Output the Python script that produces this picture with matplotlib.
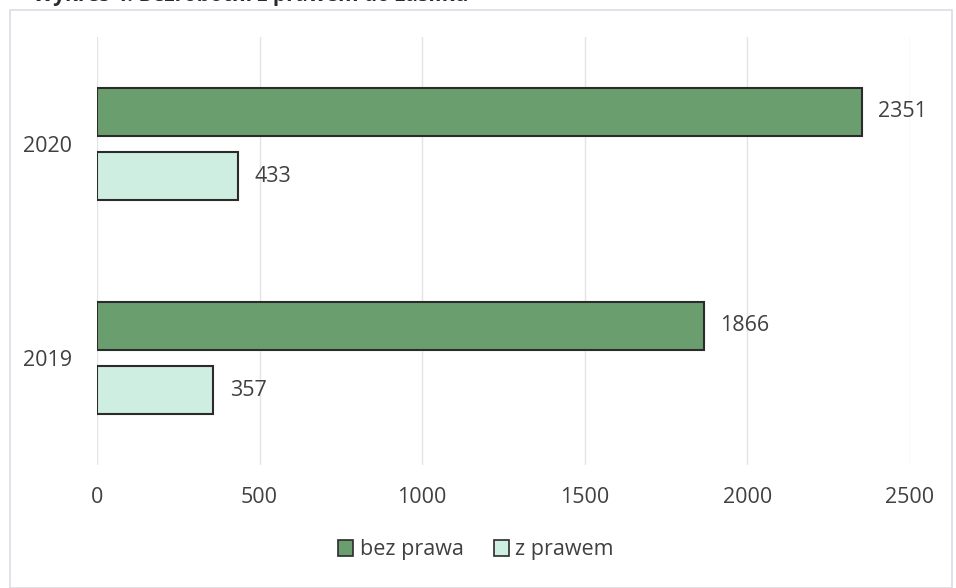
import matplotlib.pyplot as plt
from matplotlib.patches import Rectangle, Patch

# dane z wykresu
years = ["2019", "2020"]
bez_prawa = [1866, 2351]
z_prawem = [357, 433]
series_names = ["bez prawa", "z prawem"]
x_ticks = [0, 500, 1000, 1500, 2000, 2500]

plt.rcParams['font.family'] = ['Open Sans', 'DejaVu Sans']
txt_col = '#404040'

fig = plt.figure(figsize=(9.56, 5.88), dpi=100)
ax = fig.add_axes([97/956, 1 - 465/588, 813/956, 428/588])

pos = range(len(years))
h = 0.224
off = 0.15
b1 = ax.barh([p + off for p in pos], bez_prawa, height=h, color='#6b9e6e',
             edgecolor='#2b2b2b', linewidth=1.5, label=series_names[0], zorder=3)
b2 = ax.barh([p - off for p in pos], z_prawem, height=h, color='#cdeee0',
             edgecolor='#2b2b2b', linewidth=1.5, label=series_names[1], zorder=3)

for bars in (b1, b2):
    ax.bar_label(bars, padding=12, fontsize=15.5, color=txt_col)

ax.set_xlim(0, 2500)
ax.set_ylim(-0.5, 1.5)
ax.set_xticks(x_ticks)
ax.set_xticklabels([str(t) for t in x_ticks], fontsize=15.5, color=txt_col)
ax.set_yticks(list(pos))
ax.set_yticklabels(years, fontsize=15.5, color=txt_col)
ax.tick_params(axis='x', length=0, pad=16)
ax.tick_params(axis='y', length=0, pad=18)
ax.grid(axis='x', color='#e3e3ea', linewidth=1, zorder=0)
for s in ax.spines.values():
    s.set_visible(False)

handles = [Patch(facecolor='#6b9e6e', edgecolor='#2b2b2b', linewidth=1.2),
           Patch(facecolor='#cdeee0', edgecolor='#2b2b2b', linewidth=1.2)]
fig.legend(handles, series_names, loc='center', bbox_to_anchor=(476/956, 1 - 550/588),
           ncol=2, frameon=False, fontsize=15.5, handlelength=0.7, handleheight=0.7,
           handletextpad=0.3, columnspacing=1.4, labelcolor=txt_col)

# ramka wokol wykresu
fig.add_artist(Rectangle((10/956, 0.0), 942/956, 1 - 10/588, transform=fig.transFigure,
                         fill=False, edgecolor='#dcdce6', linewidth=1.2))

# ucięty tytuł na górze (w oryginale widoczny tylko dół liter)
fig.text(0.035, 1 - 1/588, "Wykres 4. Bezrobotni z prawem do zasiłku", fontsize=15,
         fontweight='bold', color='#2a2a2a', va='baseline')

fig.savefig('out.png', dpi=100)
